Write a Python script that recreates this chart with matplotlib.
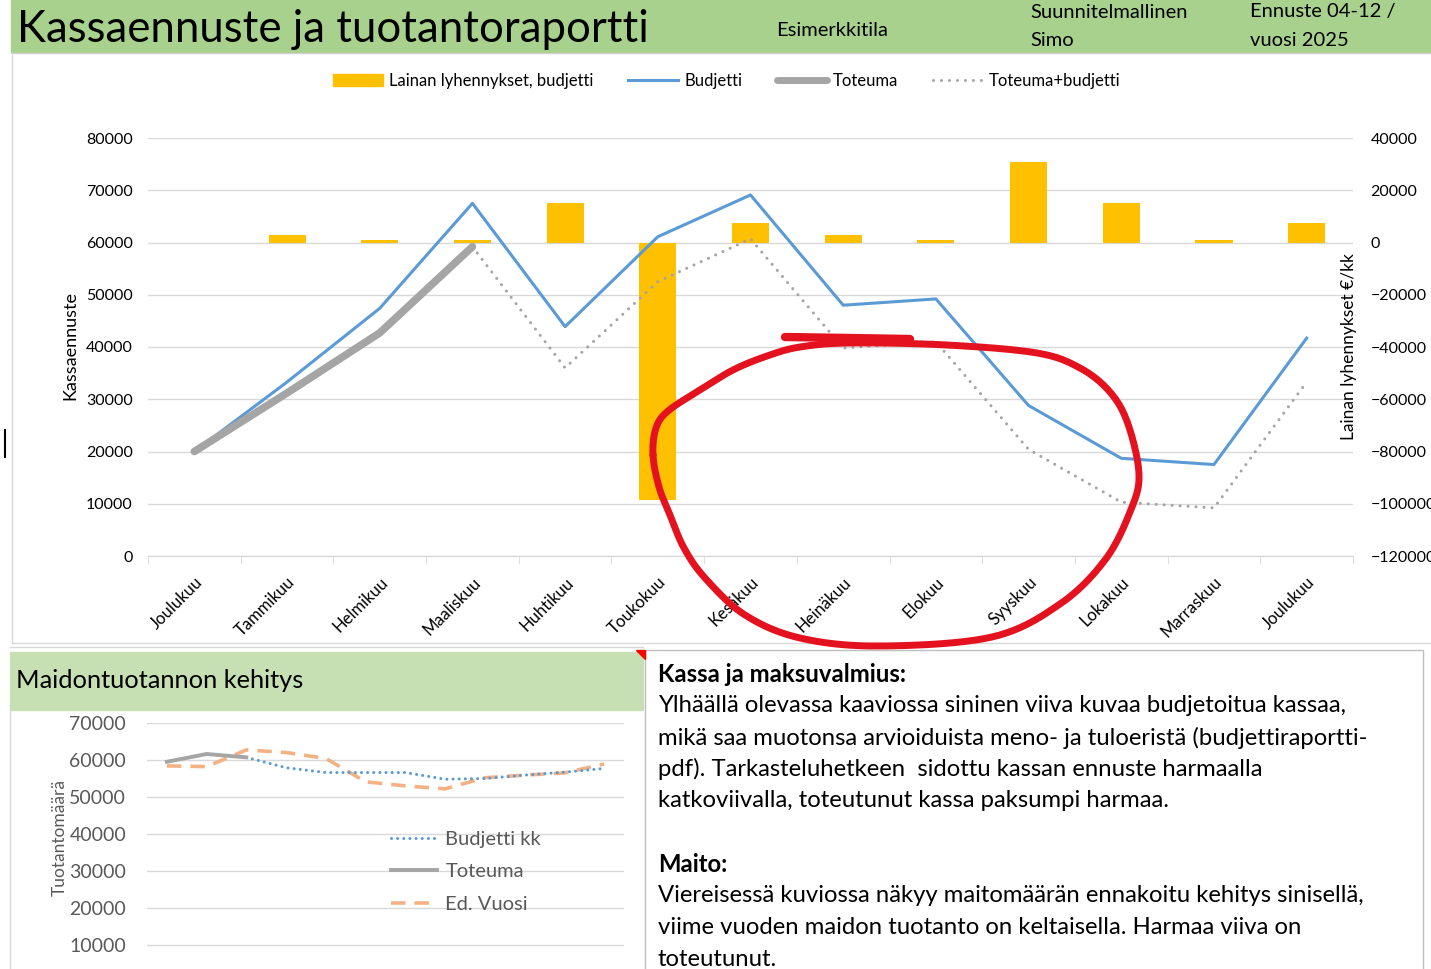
import numpy as np
import matplotlib.pyplot as plt
from matplotlib.patches import Rectangle, Polygon
from matplotlib.lines import Line2D

W, H = 1431, 969
plt.rcParams['font.family'] = ['Lato', 'DejaVu Sans']

# --- data: kassaennuste ---
kuukaudet = ['Joulukuu', 'Tammikuu', 'Helmikuu', 'Maaliskuu', 'Huhtikuu', 'Toukokuu',
             'Kesäkuu', 'Heinäkuu', 'Elokuu', 'Syyskuu', 'Lokakuu', 'Marraskuu', 'Joulukuu']
budjetti = [20000, 33300, 47400, 67500, 43900, 61100, 69100, 48000, 49200, 28800, 18700, 17500, 41700]
toteuma = [20000, 31200, 42700, 59200] + [np.nan] * 9
toteuma_budjetti = [np.nan] * 3 + [59200, 36000, 52500, 60700, 39800, 41000, 20400, 10300, 9200, 33300]
lyhennykset = [0, 3000, 1000, 1000, 15000, -98500, 7500, 3000, 1000, 31000, 15000, 1000, 7500]

# --- data: maidontuotanto ---
maito_budjetti = [np.nan, np.nan, 60600, 57800, 56500, 56500, 56500, 54700, 54900, 55800, 56600, 57600]
maito_toteuma = [59400, 61500, 60600] + [np.nan] * 9
maito_ed_vuosi = [58300, 58100, 62600, 61900, 60300, 54000, 52900, 52100, 55100, 55800, 56400, 58800]

teksti1 = ["Ylhäällä olevassa kaaviossa sininen viiva kuvaa budjetoitua kassaa,",
           "mikä saa muotonsa arvioiduista meno- ja tuloeristä (budjettiraportti-",
           "pdf). Tarkasteluhetkeen  sidottu kassan ennuste harmaalla",
           "katkoviivalla, toteutunut kassa paksumpi harmaa."]
teksti2 = ["Viereisessä kuviossa näkyy maitomäärän ennakoitu kehitys sinisellä,",
           "viime vuoden maidon tuotanto on keltaisella. Harmaa viiva on",
           "toteutunut."]

BLUE = '#5b9bd5'
GRAY = '#a5a5a5'
GOLD = '#ffc000'
ORANGE = '#f4b183'
GRID = '#d9d9d9'
TXT2 = '#595959'
RED = '#e3121e'


def fx(x):
    return np.asarray(x) / W


def fy(y):
    return 1 - np.asarray(y) / H


fig = plt.figure(figsize=(W / 100, H / 100), dpi=100)

# header band
fig.patches.append(Rectangle((fx(11), fy(52)), 1 - fx(11), 52 / H, transform=fig.transFigure,
                             color='#a9d18e', zorder=0))
fig.lines.append(Line2D([fx(11), 1], [fy(53), fy(53)], transform=fig.transFigure, color='#d0d0d0', lw=1))
fig.text(fx(17), fy(29), 'Kassaennuste ja tuotantoraportti', fontsize=31.5, va='center', ha='left')
fig.text(fx(776), fy(31), 'Esimerkkitila', fontsize=14.5, va='center')
fig.text(fx(1030), fy(12), 'Suunnitelmallinen', fontsize=14.5, va='center')
fig.text(fx(1030), fy(41), 'Simo', fontsize=14.5, va='center')
fig.text(fx(1250), fy(12), 'Ennuste 04-12 /', fontsize=14.5, va='center')
fig.text(fx(1250), fy(41), 'vuosi 2025', fontsize=14.5, va='center')

# chart borders / sheet lines
fig.lines.append(Line2D([fx(12), fx(12)], [fy(55), fy(642)], transform=fig.transFigure, color='#d9d9d9', lw=1))
fig.lines.append(Line2D([fx(12), 1], [fy(643), fy(643)], transform=fig.transFigure, color='#d9d9d9', lw=1))
fig.lines.append(Line2D([fx(5), fx(5)], [fy(430), fy(457)], transform=fig.transFigure, color='black', lw=1.5))

# --- main chart ---
x = np.arange(len(kuukaudet))
ax = fig.add_axes([fx(148), fy(556), (1353 - 148) / W, 418 / H])
ax2 = ax.twinx()
ax.set_zorder(ax2.get_zorder() + 1)
ax.patch.set_visible(False)

ax2.bar(x, lyhennykset, width=0.4, color=GOLD, zorder=2)
ax2.set_ylim(-120000, 40000)
ax2.set_yticks(np.arange(-120000, 40001, 20000))
ax2.grid(axis='y', color=GRID, lw=1)
ax2.set_axisbelow(True)

ax.plot(x, budjetti, color=BLUE, lw=2.2, zorder=3)
ax.plot(x, toteuma, color=GRAY, lw=5.5, solid_capstyle='round', zorder=4)
ax.plot(x, toteuma_budjetti, color=GRAY, lw=2.2, ls=(0, (0.01, 2.6)), dash_capstyle='round', zorder=3)
ax.set_ylim(0, 80000)
ax.set_yticks(np.arange(0, 80001, 10000))
ax.set_xlim(-0.5, len(kuukaudet) - 0.5)
ax.set_xticks(x)
ax.set_xticklabels(kuukaudet, rotation=45, ha='right', rotation_mode='anchor')
ax.set_xticks(np.arange(-0.5, len(kuukaudet), 1), minor=True)
ax.tick_params(axis='x', which='major', length=0, pad=13, labelsize=12)
ax.tick_params(axis='x', which='minor', length=6, color=GRID)
ax.tick_params(axis='y', length=0, pad=11, labelsize=11.5)
ax2.tick_params(axis='y', length=0, pad=12.5, labelsize=11.5)
for a in (ax, ax2):
    for s in ('top', 'left', 'right'):
        a.spines[s].set_visible(False)
    a.spines['bottom'].set_color(GRID)
fig.text(fx(70), fy(346), 'Kassaennuste', rotation=90, fontsize=13, ha='center', va='center')
fig.text(fx(1349), fy(347), 'Lainan lyhennykset €/kk', rotation=90, fontsize=12.5, ha='center', va='center')

handles = [Rectangle((0, 0), 1, 1, color=GOLD),
           Line2D([], [], color=BLUE, lw=2.2),
           Line2D([], [], color=GRAY, lw=5, solid_capstyle='round'),
           Line2D([], [], color=GRAY, lw=2.2, ls=(0, (0.01, 2.6)), dash_capstyle='round')]
fig.legend(handles, ['Lainan lyhennykset, budjetti', 'Budjetti', 'Toteuma', 'Toteuma+budjetti'],
           ncol=4, loc='center', bbox_to_anchor=(fx(727), fy(81)), frameon=False, fontsize=12,
           handlelength=3.0, handletextpad=0.35, columnspacing=2.1)

# red hand-drawn circle (annotation)
pts = np.array([(653, 455), (656, 428), (668, 411), (700, 390), (733, 370), (767, 356), (800, 347),
                (850, 343), (947, 345), (1037, 353), (1080, 368), (1110, 392), (1128, 424),
                (1139, 475), (1130, 512), (1105, 560), (1060, 604), (992, 637), (879, 646),
                (800, 638), (745, 615), (705, 578), (684, 548), (670, 515), (659, 487)], dtype=float)
n = len(pts)
curve = []
for i in range(n):
    p0, p1, p2, p3 = pts[i - 1], pts[i], pts[(i + 1) % n], pts[(i + 2) % n]
    for t in np.linspace(0, 1, 12, endpoint=False):
        t2, t3 = t * t, t * t * t
        curve.append(0.5 * ((2 * p1) + (-p0 + p2) * t + (2 * p0 - 5 * p1 + 4 * p2 - p3) * t2
                            + (-p0 + 3 * p1 - 3 * p2 + p3) * t3))
curve.append(curve[0])
curve = np.array(curve)
fig.lines.append(Line2D(fx(curve[:, 0]), fy(curve[:, 1]), transform=fig.transFigure,
                        color=RED, lw=5, solid_capstyle='round', zorder=10))
fig.lines.append(Line2D(fx([785, 850, 910]), fy([337, 338, 339]), transform=fig.transFigure,
                        color=RED, lw=6, solid_capstyle='round', zorder=10))

# --- milk chart ---
fig.patches.append(Rectangle((fx(10), fy(710)), (643 - 10) / W, 58 / H, transform=fig.transFigure,
                             color='#c6e0b4', zorder=0))
fig.text(fx(16), fy(681), 'Maidontuotannon kehitys', fontsize=18.3, va='center')
fig.lines.append(Line2D([fx(10), fx(10)], [fy(710), 0], transform=fig.transFigure, color='#d9d9d9', lw=1))
fig.lines.append(Line2D([fx(10), fx(643)], [fy(647), fy(647)], transform=fig.transFigure, color='#d9d9d9', lw=1))
fig.patches.append(Polygon([(fx(636), fy(650)), (fx(645), fy(650)), (fx(645), fy(659))], closed=True,
                           transform=fig.transFigure, color='red', zorder=5))

xm = np.arange(len(maito_ed_vuosi))
axm = fig.add_axes([fx(147), fy(982), (624 - 147) / W, (982 - 722.5) / H])
axm.plot(xm, maito_ed_vuosi, color=ORANGE, lw=2.6, ls=(0, (4, 2.5)), label='Ed. Vuosi', zorder=2)
axm.plot(xm, maito_budjetti, color=BLUE, lw=2.2, ls=(0, (0.01, 2.0)), dash_capstyle='round',
         label='Budjetti kk', zorder=3)
axm.plot(xm, maito_toteuma, color=GRAY, lw=2.8, label='Toteuma', zorder=4)
axm.set_xlim(-0.5, len(xm) - 0.5)
axm.set_ylim(0, 70000)
axm.set_yticks(np.arange(10000, 70001, 10000))
axm.set_xticks([])
axm.grid(axis='y', color=GRID, lw=1)
axm.set_axisbelow(True)
axm.tick_params(axis='y', length=0, pad=15, labelsize=14, labelcolor=TXT2)
for s in axm.spines.values():
    s.set_visible(False)
hm, lm = axm.get_legend_handles_labels()
order = [1, 2, 0]
axm.legend([hm[i] for i in order], [lm[i] for i in order], loc='upper left',
           bbox_to_anchor=(fx(373), fy(813)), bbox_transform=fig.transFigure, frameon=False,
           fontsize=14.5, labelcolor=TXT2, handlelength=2.3, handletextpad=0.4, labelspacing=0.75)
fig.text(fx(60), fy(838), 'Tuotantomäärä', rotation=90, fontsize=12.5, color=TXT2, ha='center', va='center')

# --- text box ---
fig.lines.append(Line2D([fx(645), fx(645), fx(1423), fx(1423)], [0, fy(650), fy(650), 0],
                        transform=fig.transFigure, color='#bfbfbf', lw=1))
fig.text(fx(658), fy(675), 'Kassa ja maksuvalmius:', fontsize=17.2, fontweight='bold', va='center')
for i, t in enumerate(teksti1):
    fig.text(fx(658), fy(706 + 31.5 * i), t, fontsize=17.2, va='center')
fig.text(fx(658), fy(864), 'Maito:', fontsize=17.2, fontweight='bold', va='center')
for i, t in enumerate(teksti2):
    fig.text(fx(658), fy(896 + 31.5 * i), t, fontsize=17.2, va='center')

fig.savefig('out.png', dpi=100)
